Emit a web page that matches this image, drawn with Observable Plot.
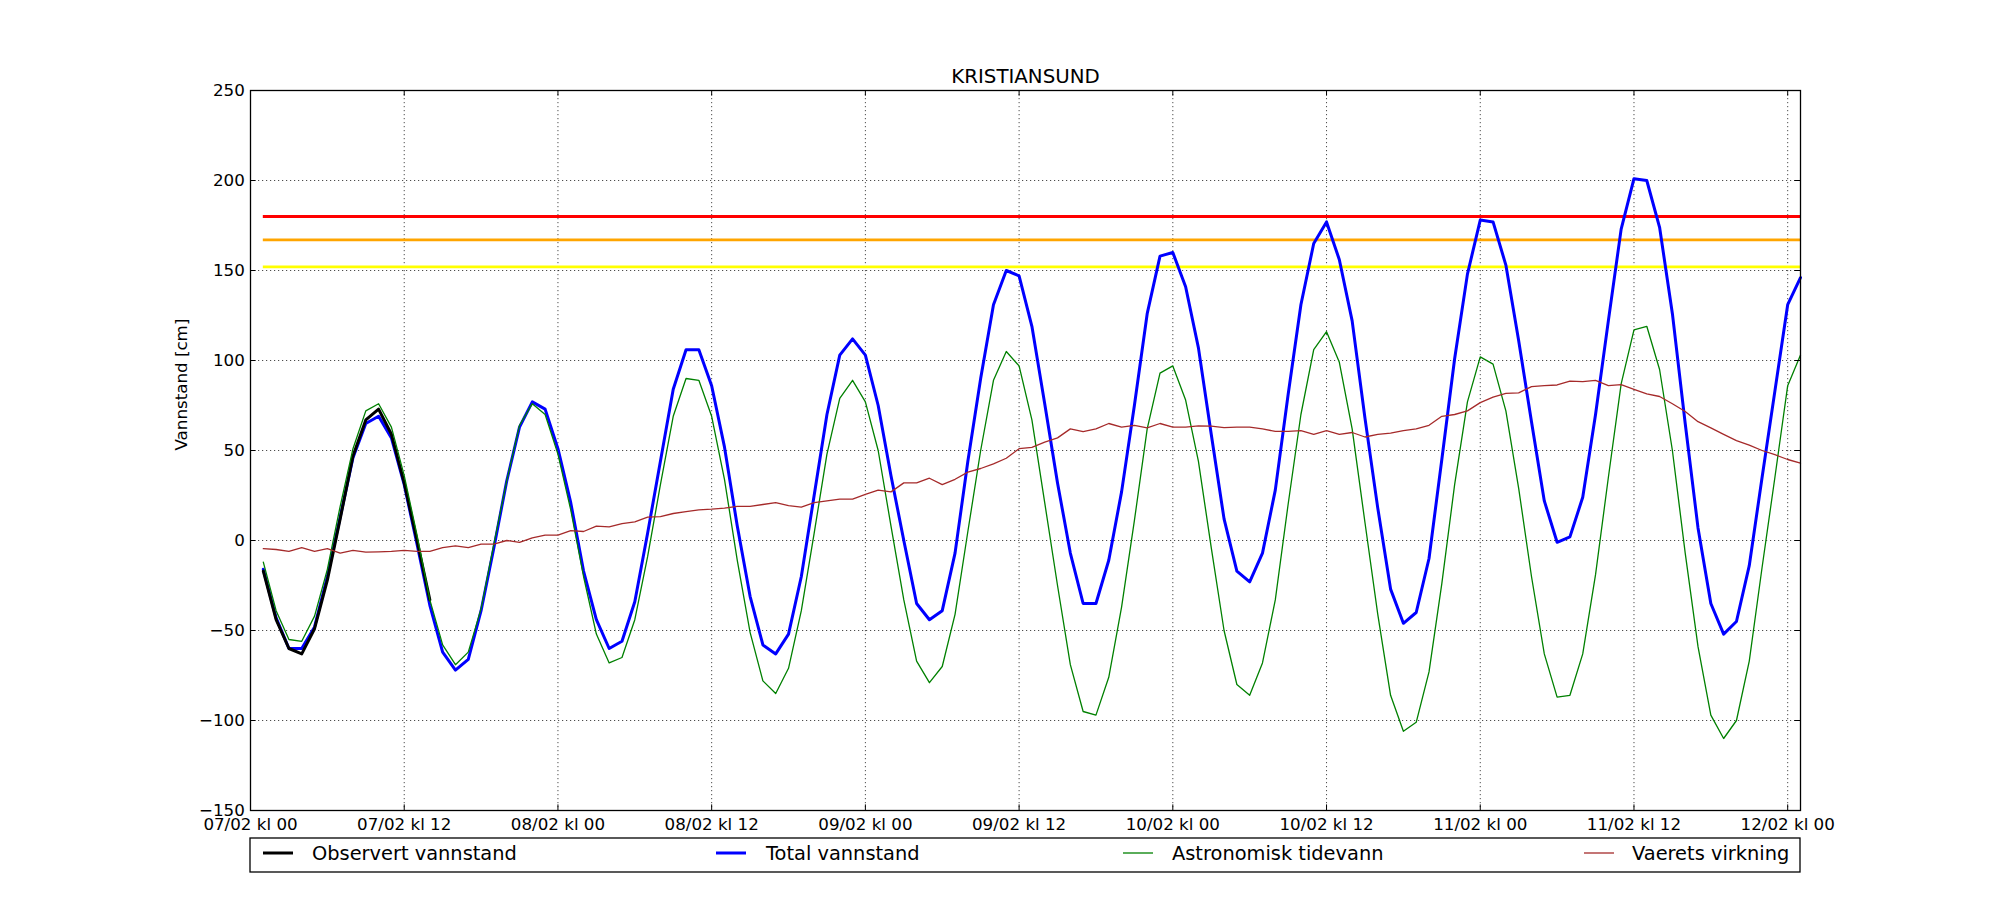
<!DOCTYPE html>
<html>
<head>
<meta charset="utf-8">
<script src="https://cdn.jsdelivr.net/npm/d3@7"></script>
<script src="https://cdn.jsdelivr.net/npm/@observablehq/plot@0.6"></script>
<style>
  html, body { margin: 0; padding: 0; background: #fff; }
  #chart { width: 2000px; height: 900px; }
</style>
</head>
<body>
<div id="chart"></div>
<script>
// ---------------- data ----------------
const stationName = "KRISTIANSUND";
const yAxisLabel = "Vannstand [cm]";
const seriesNames = ["Observert vannstand", "Total vannstand", "Astronomisk tidevann", "Vaerets virkning"];

// hourly series, first value at 07/02 kl 01
const firstHour = 1;

const observed = [-17, -44, -60, -63, -49, -22, 12, 47, 67, 73, 59, 32, 0, -33];

const total = [
  -16, -43, -60, -60, -48, -20, 13, 46, 65, 69,
  57, 31, -2, -36, -62, -72, -66, -39, -4, 33,
  63, 77, 73, 51, 21, -17, -44, -60, -56, -34,
  4, 44, 84, 106, 106, 86, 52, 8, -31, -58,
  -63, -52, -20, 25, 70, 103, 112, 103, 75, 36,
  0, -35, -44, -39, -7, 44, 90, 131, 150, 147,
  119, 76, 32, -7, -35, -35, -11, 27, 75, 126,
  158, 160, 141, 107, 59, 12, -17, -23, -7, 28,
  81, 131, 165, 177, 156, 122, 68, 18, -27, -46,
  -40, -10, 45, 101, 148, 178, 177, 153, 111, 66,
  22, -1, 2, 24, 70, 122, 173, 201, 200, 174,
  126, 65, 7, -35, -52, -45, -14, 35, 83, 131,
  146
];

const astro = [
  -12, -39, -55, -56, -42, -16, 19, 51, 72, 76,
  63, 36, 3, -33, -58, -69, -62, -38, -2, 33,
  64, 76, 70, 48, 17, -20, -52, -68, -65, -44,
  -9, 31, 69, 90, 89, 69, 34, -11, -51, -78,
  -85, -71, -39, 4, 48, 79, 89, 77, 50, 8,
  -33, -67, -79, -70, -41, 5, 50, 89, 105, 97,
  67, 21, -25, -69, -95, -97, -76, -37, 11, 62,
  93, 97, 78, 44, -4, -50, -80, -86, -68, -33,
  20, 70, 106, 116, 99, 62, 10, -41, -86, -106,
  -101, -73, -24, 31, 77, 102, 98, 72, 29, -20,
  -63, -87, -86, -63, -19, 35, 87, 117, 119, 95,
  50, -7, -59, -97, -110, -100, -67, -15, 35, 86,
  103
];

const weather = [
  -4.5, -5, -6, -4, -6, -4.5, -7, -5.5, -6.5, -6.3,
  -6, -5.5, -6, -6, -4, -3, -4, -2, -2, 0,
  -1, 1.5, 3, 3, 5.5, 5, 8, 7.6, 9.4, 10.4,
  13, 13.3, 15, 16, 17, 17.4, 18, 19, 19, 20,
  21, 19.4, 18.5, 21, 22, 23, 23, 25.6, 28, 27,
  32, 32, 34.6, 31, 34, 38, 40, 42.6, 45.7, 51,
  51.7, 54.6, 57, 62, 60.5, 62, 65, 63, 64, 62.6,
  65, 63, 63, 63.7, 63.5, 62.7, 63, 63, 62, 60.6,
  60.6, 61, 59, 61, 59, 60, 57.5, 59, 59.7, 61,
  62, 64, 69, 70, 72, 76.6, 79.6, 81.7, 82, 85.5,
  86, 86.4, 88.5, 88.3, 89, 86, 86.6, 84, 81.5, 80,
  76, 71.7, 66, 62.6, 59, 55.5, 53, 50, 47.7, 45,
  43
];

// alert levels (cm)
const thresholdValues = [180, 167, 152];
const thresholdColors = ["#ff0000", "#ffa500", "#ffff00"];

const yTicks = [-150, -100, -50, 0, 50, 100, 150, 200, 250];
const xTickLabels = ["07/02 kl 00", "07/02 kl 12", "08/02 kl 00", "08/02 kl 12", "09/02 kl 00",
  "09/02 kl 12", "10/02 kl 00", "10/02 kl 12", "11/02 kl 00", "11/02 kl 12", "12/02 kl 00"];
const xTickStepHours = 12;

// ---------------- build ----------------
const HOUR = 3600 * 1000;
const t0 = Date.UTC(2000, 1, 7, 0, 0, 0);
const timeAt = (i) => new Date(t0 + (firstHour + i) * HOUR);
const toRows = (arr) => arr.map((v, i) => ({time: timeAt(i), value: v}));

const obsRows = toRows(observed);
const totRows = toRows(total);
const astRows = toRows(astro);
const wthRows = toRows(weather);
const tStart = new Date(t0);
const tFirst = timeAt(0);
const tLast = timeAt(total.length - 1);
const xTickDates = xTickLabels.map((_, i) => new Date(t0 + i * xTickStepHours * HOUR));
const thresholds = thresholdValues.map((v, i) => ({value: v, color: thresholdColors[i]}));

const W = 2000, H = 900, mL = 250, mR = 200, mT = 90, mB = 90;
const frameW = W - mL - mR, frameH = H - mT - mB;
const tickLen = 5.6;
const gridStyle = {stroke: "#000", strokeOpacity: 1, strokeWidth: 0.7, strokeDasharray: "1.2,2.8"};
const seriesStyle = [
  {stroke: "#000000", strokeWidth: 3},
  {stroke: "#0000ff", strokeWidth: 3},
  {stroke: "#008000", strokeWidth: 1.3},
  {stroke: "#a52a2a", strokeWidth: 1.3}
];
const fmtY = d3.format("d");
const fmtX = (d) => xTickLabels[xTickDates.findIndex((t) => +t === +d)];

const svg = Plot.plot({
  width: W,
  height: H,
  marginLeft: mL,
  marginRight: mR,
  marginTop: mT,
  marginBottom: mB,
  style: {fontFamily: "DejaVu Sans", fontSize: "16.7px", color: "#000", background: "#fff"},
  x: {type: "utc", domain: [tStart, tLast]},
  y: {domain: [-150, 250]},
  marks: [
    Plot.gridX(xTickDates, {x: (d) => d, ...gridStyle}),
    Plot.gridY(yTicks, {y: (d) => d, ...gridStyle}),
    Plot.ruleY(thresholds, {y: "value", x1: () => tFirst, x2: () => tLast, stroke: "color", strokeWidth: 2.8}),
    Plot.line(totRows, {x: "time", y: "value", ...seriesStyle[1]}),
    Plot.line(obsRows, {x: "time", y: "value", ...seriesStyle[0]}),
    Plot.line(astRows, {x: "time", y: "value", ...seriesStyle[2]}),
    Plot.line(wthRows, {x: "time", y: "value", ...seriesStyle[3]}),
    Plot.frame({stroke: "#000", strokeWidth: 1.3}),
    Plot.tickX(xTickDates, {x: (d) => d, insetTop: frameH - tickLen, stroke: "#000", strokeWidth: 1}),
    Plot.tickX(xTickDates, {x: (d) => d, insetBottom: frameH - tickLen, stroke: "#000", strokeWidth: 1}),
    Plot.tickY(yTicks, {y: (d) => d, insetRight: frameW - tickLen, stroke: "#000", strokeWidth: 1}),
    Plot.tickY(yTicks, {y: (d) => d, insetLeft: frameW - tickLen, stroke: "#000", strokeWidth: 1}),
    Plot.axisX(xTickDates, {tickSize: 0, tickPadding: 7.6, tickFormat: fmtX, label: null, fill: "#000", fontSize: 16.7}),
    Plot.axisY(yTicks, {tickSize: 0, tickPadding: 5.7, tickFormat: fmtY, label: null, fill: "#000", fontSize: 16.7}),
    Plot.text([stationName], {text: (d) => d, frameAnchor: "top", lineAnchor: "middle", dy: -13.6, fontSize: 19.8, fill: "#000"}),
    Plot.text([yAxisLabel], {text: (d) => d, frameAnchor: "left", lineAnchor: "middle", dx: -69, rotate: -90, fontSize: 16.7, fill: "#000"})
  ]
});

// legend (below the axes, inside the same SVG)
const lg = {x: 250, y: 838, w: 1550, h: 34, sampleX: [263, 716, 1123, 1584], textX: [312, 766, 1172, 1632],
  sampleLen: 30, lineY: 853, baseline: 860.3, fontSize: 19.4};
const g = d3.select(svg).append("g").attr("class", "legend").attr("text-anchor", "start");
g.append("rect").attr("x", lg.x).attr("y", lg.y).attr("width", lg.w).attr("height", lg.h)
  .attr("fill", "#fff").attr("stroke", "#000").attr("stroke-width", 1.3);
seriesNames.forEach((name, i) => {
  g.append("line").attr("x1", lg.sampleX[i]).attr("x2", lg.sampleX[i] + lg.sampleLen)
    .attr("y1", lg.lineY).attr("y2", lg.lineY)
    .attr("stroke", seriesStyle[i].stroke).attr("stroke-width", seriesStyle[i].strokeWidth);
  g.append("text").attr("x", lg.textX[i]).attr("y", lg.baseline)
    .attr("text-anchor", "start")
    .attr("font-family", "DejaVu Sans").attr("font-size", lg.fontSize).attr("fill", "#000")
    .text(name);
});

document.getElementById("chart").appendChild(svg);
</script>
</body>
</html>
